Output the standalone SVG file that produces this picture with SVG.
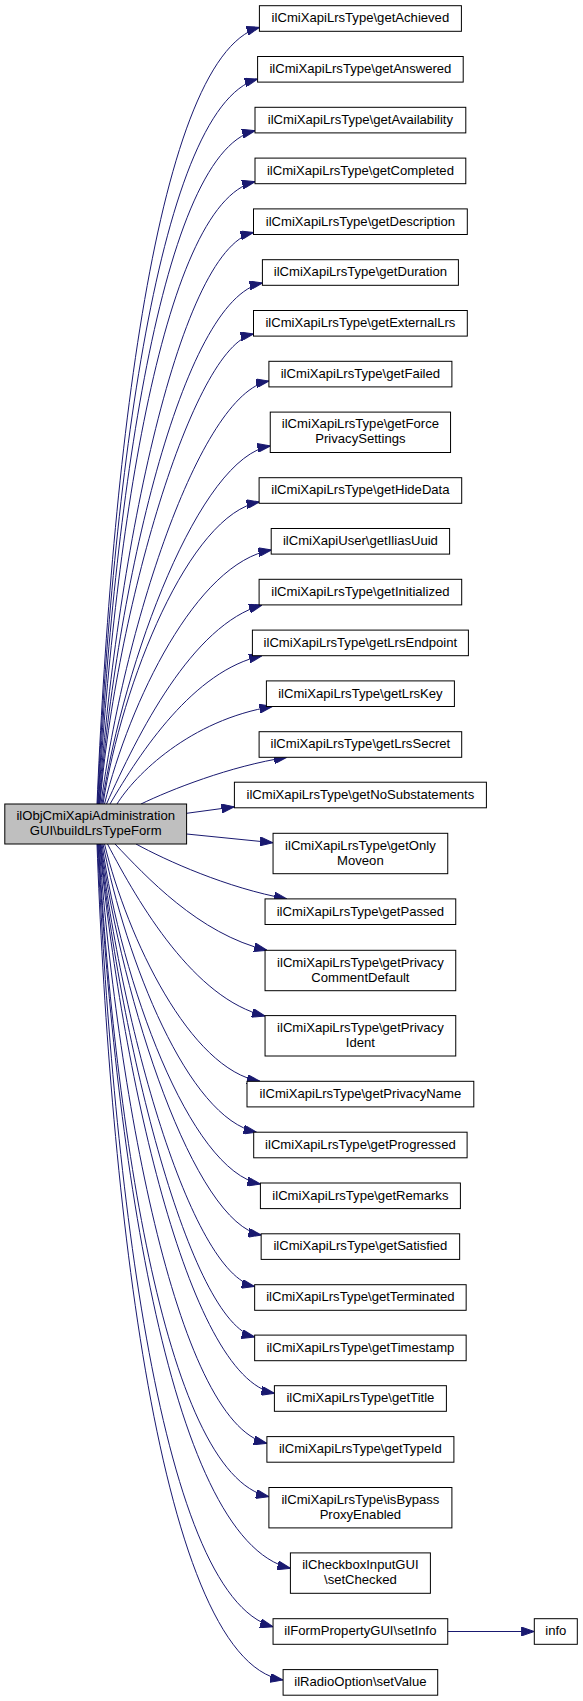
<svg xmlns="http://www.w3.org/2000/svg" width="583" height="1701" viewBox="0 0 583 1701">
<style>
.node rect{fill:#ffffff;stroke:#000000;stroke-width:1}
.main rect{fill:#bfbfbf}
text{font-family:"Liberation Sans",Arial,Helvetica,sans-serif;font-size:13.1px;text-anchor:middle;fill:#000000}
.edges path{fill:none;stroke:#191970;stroke-width:1;marker-end:url(#arr)}
</style>
<defs>
<marker id="arr" markerUnits="userSpaceOnUse" viewBox="0 0 13 9" markerWidth="13" markerHeight="9" refX="13" refY="4.5" orient="auto">
<path d="M0,0 L13,4.5 L0,9 z" fill="#191970" stroke="#191970" stroke-width="1"/>
</marker>
</defs>
<rect width="583" height="1701" fill="#ffffff"/>
<g class="edges" id="edges">
<path d="M97,804 C110,501.1 150.6,58.4 259.5,27.3"/>
<path d="M97.5,804 C110.3,521.2 153.5,108 257.6,79"/>
<path d="M98,804 C111.3,541.4 156.1,154.3 255,130.7"/>
<path d="M98.5,804 C112.6,561.3 159.5,203.5 255,181.7"/>
<path d="M99,804 C114.5,575.4 176.3,249.6 253.5,232.5"/>
<path d="M99.5,804 C115.8,595.6 181,298.6 262.5,283"/>
<path d="M100,804 C115.4,616 192.1,345.7 253.5,334"/>
<path d="M101,804 C122.8,634.8 198.4,393.7 269,381"/>
<path d="M102,804 C123.9,660.8 199.6,456.7 270.3,446"/>
<path d="M103,804 C121.8,683.2 189.1,514.1 259.5,502"/>
<path d="M104.5,804 C129.5,702.4 196.3,562.7 271.4,550"/>
<path d="M106.5,804 C137.6,734.3 192,624.9 262,605"/>
<path d="M110,804 C140.4,752.1 193.6,670.5 262,655.7"/>
<path d="M117,804 C135,775 190,720 272.5,706.5"/>
<path d="M141,804 C170,790 230,766 287,757.3"/>
<path d="M186.6,813.3 L234.4,806.8"/>
<path d="M186.6,834 L273,842.7"/>
<path d="M136,844 C166.2,860.5 226.6,887.9 287,898.9"/>
<path d="M115,844 C145.4,875.8 198.6,934.1 267,950.3"/>
<path d="M107.5,844 C139,904.2 194.1,998.8 265,1016"/>
<path d="M104.5,844 C127.8,939 190,1069.6 260,1081.3"/>
<path d="M103,844 C126,959.4 187.4,1118.1 256.5,1132.2"/>
<path d="M102,844 C121,980 189,1170.4 260.4,1184"/>
<path d="M101,844 C121.8,1000.4 194,1223.3 261.3,1235"/>
<path d="M100.5,844 C120.5,1021 189.9,1273.2 254.7,1286.5"/>
<path d="M100,844 C120.1,1041.2 189.7,1322.2 254.7,1337"/>
<path d="M99.5,844 C120.5,1063.7 186.9,1376.8 274.4,1393.3"/>
<path d="M99,844 C115.8,1077.7 174.6,1422.3 266.9,1443.3"/>
<path d="M98.5,844 C113,1098.6 161.5,1473.9 268.9,1496.7"/>
<path d="M98,844 C113.4,1126.5 165.3,1539.3 290.4,1568.3"/>
<path d="M97.5,844 C111.6,1149.3 155.5,1595.4 273.1,1626.7"/>
<path d="M97,844 C108.2,1153.3 152.9,1659.1 283.1,1680"/>
<path d="M447.8,1631.5 L534.3,1631.5"/>
</g>
<g class="node main" id="n_main"><rect x="4.8" y="804" width="181.8" height="40"/><text x="95.7" y="820.3">ilObjCmiXapiAdministration</text><text x="95.7" y="835.3">GUI\buildLrsTypeForm</text></g>
<g class="node" id="n_getAchieved"><rect x="259.4" y="5.7" width="202" height="25.6"/><text x="360.4" y="22.3">ilCmiXapiLrsType\getAchieved</text></g>
<g class="node" id="n_getAnswered"><rect x="257.6" y="56.5" width="205.6" height="25.6"/><text x="360.4" y="73.1">ilCmiXapiLrsType\getAnswered</text></g>
<g class="node" id="n_getAvailability"><rect x="255" y="107.3" width="210.8" height="25.6"/><text x="360.4" y="123.9">ilCmiXapiLrsType\getAvailability</text></g>
<g class="node" id="n_getCompleted"><rect x="255" y="158.1" width="210.8" height="25.6"/><text x="360.4" y="174.7">ilCmiXapiLrsType\getCompleted</text></g>
<g class="node" id="n_getDescription"><rect x="253.5" y="208.9" width="213.8" height="25.6"/><text x="360.4" y="225.5">ilCmiXapiLrsType\getDescription</text></g>
<g class="node" id="n_getDuration"><rect x="262.4" y="259.7" width="196" height="25.6"/><text x="360.4" y="276.3">ilCmiXapiLrsType\getDuration</text></g>
<g class="node" id="n_getExternalLrs"><rect x="253.5" y="310.5" width="213.8" height="25.6"/><text x="360.4" y="327.1">ilCmiXapiLrsType\getExternalLrs</text></g>
<g class="node" id="n_getFailed"><rect x="268.9" y="361.3" width="183" height="25.6"/><text x="360.4" y="377.9">ilCmiXapiLrsType\getFailed</text></g>
<g class="node" id="n_getForce"><rect x="270.25" y="412.1" width="180.3" height="40.4"/><text x="360.4" y="428.4">ilCmiXapiLrsType\getForce</text><text x="360.4" y="443.4">PrivacySettings</text></g>
<g class="node" id="n_getHideData"><rect x="259.1" y="477.7" width="202.6" height="25.6"/><text x="360.4" y="494.3">ilCmiXapiLrsType\getHideData</text></g>
<g class="node" id="n_getIliasUuid"><rect x="271.2" y="528.5" width="178.4" height="25.6"/><text x="360.4" y="545.1">ilCmiXapiUser\getIliasUuid</text></g>
<g class="node" id="n_getInitialized"><rect x="259.1" y="579.3" width="202.6" height="25.6"/><text x="360.4" y="595.9">ilCmiXapiLrsType\getInitialized</text></g>
<g class="node" id="n_getLrsEndpoint"><rect x="252.4" y="630.1" width="216" height="25.6"/><text x="360.4" y="646.7">ilCmiXapiLrsType\getLrsEndpoint</text></g>
<g class="node" id="n_getLrsKey"><rect x="266.4" y="680.9" width="188" height="25.6"/><text x="360.4" y="697.5">ilCmiXapiLrsType\getLrsKey</text></g>
<g class="node" id="n_getLrsSecret"><rect x="259.1" y="731.7" width="202.6" height="25.6"/><text x="360.4" y="748.3">ilCmiXapiLrsType\getLrsSecret</text></g>
<g class="node" id="n_getNoSubstatements"><rect x="234.4" y="782.2" width="252" height="25.6"/><text x="360.4" y="798.8">ilCmiXapiLrsType\getNoSubstatements</text></g>
<g class="node" id="n_getOnlyMoveon"><rect x="273.05" y="833.3" width="174.7" height="40.4"/><text x="360.4" y="849.6">ilCmiXapiLrsType\getOnly</text><text x="360.4" y="864.6">Moveon</text></g>
<g class="node" id="n_getPassed"><rect x="265.05" y="898.9" width="190.7" height="25.6"/><text x="360.4" y="915.5">ilCmiXapiLrsType\getPassed</text></g>
<g class="node" id="n_getPrivacyCommentDefault"><rect x="265.05" y="950.3" width="190.7" height="40.4"/><text x="360.4" y="966.6">ilCmiXapiLrsType\getPrivacy</text><text x="360.4" y="981.6">CommentDefault</text></g>
<g class="node" id="n_getPrivacyIdent"><rect x="265.05" y="1015.6" width="190.7" height="40.4"/><text x="360.4" y="1031.9">ilCmiXapiLrsType\getPrivacy</text><text x="360.4" y="1046.9">Ident</text></g>
<g class="node" id="n_getPrivacyName"><rect x="247" y="1081.3" width="226.8" height="25.6"/><text x="360.4" y="1097.9">ilCmiXapiLrsType\getPrivacyName</text></g>
<g class="node" id="n_getProgressed"><rect x="253.7" y="1132.2" width="213.4" height="25.6"/><text x="360.4" y="1148.8">ilCmiXapiLrsType\getProgressed</text></g>
<g class="node" id="n_getRemarks"><rect x="260.4" y="1183" width="200" height="25.6"/><text x="360.4" y="1199.6">ilCmiXapiLrsType\getRemarks</text></g>
<g class="node" id="n_getSatisfied"><rect x="261.15" y="1233.8" width="198.5" height="25.6"/><text x="360.4" y="1250.4">ilCmiXapiLrsType\getSatisfied</text></g>
<g class="node" id="n_getTerminated"><rect x="254.65" y="1284.7" width="211.5" height="25.6"/><text x="360.4" y="1301.3">ilCmiXapiLrsType\getTerminated</text></g>
<g class="node" id="n_getTimestamp"><rect x="254.65" y="1335.1" width="211.5" height="25.6"/><text x="360.4" y="1351.7">ilCmiXapiLrsType\getTimestamp</text></g>
<g class="node" id="n_getTitle"><rect x="274.4" y="1385.7" width="172" height="25.6"/><text x="360.4" y="1402.3">ilCmiXapiLrsType\getTitle</text></g>
<g class="node" id="n_getTypeId"><rect x="266.9" y="1436.6" width="187" height="25.6"/><text x="360.4" y="1453.2">ilCmiXapiLrsType\getTypeId</text></g>
<g class="node" id="n_isBypassProxyEnabled"><rect x="268.9" y="1487.5" width="183" height="40.4"/><text x="360.4" y="1503.8">ilCmiXapiLrsType\isBypass</text><text x="360.4" y="1518.8">ProxyEnabled</text></g>
<g class="node" id="n_setChecked"><rect x="290.4" y="1552.9" width="140" height="40.4"/><text x="360.4" y="1569.2">ilCheckboxInputGUI</text><text x="360.4" y="1584.2">\setChecked</text></g>
<g class="node" id="n_setInfo"><rect x="273.05" y="1618.7" width="174.7" height="25.6"/><text x="360.4" y="1635.3">ilFormPropertyGUI\setInfo</text></g>
<g class="node" id="n_setValue"><rect x="283.1" y="1669.6" width="154.6" height="25.6"/><text x="360.4" y="1686.2">ilRadioOption\setValue</text></g>
<g class="node" id="n_info"><rect x="534.3" y="1618.7" width="43" height="25.6"/><text x="555.8" y="1635.3">info</text></g>
</svg>
